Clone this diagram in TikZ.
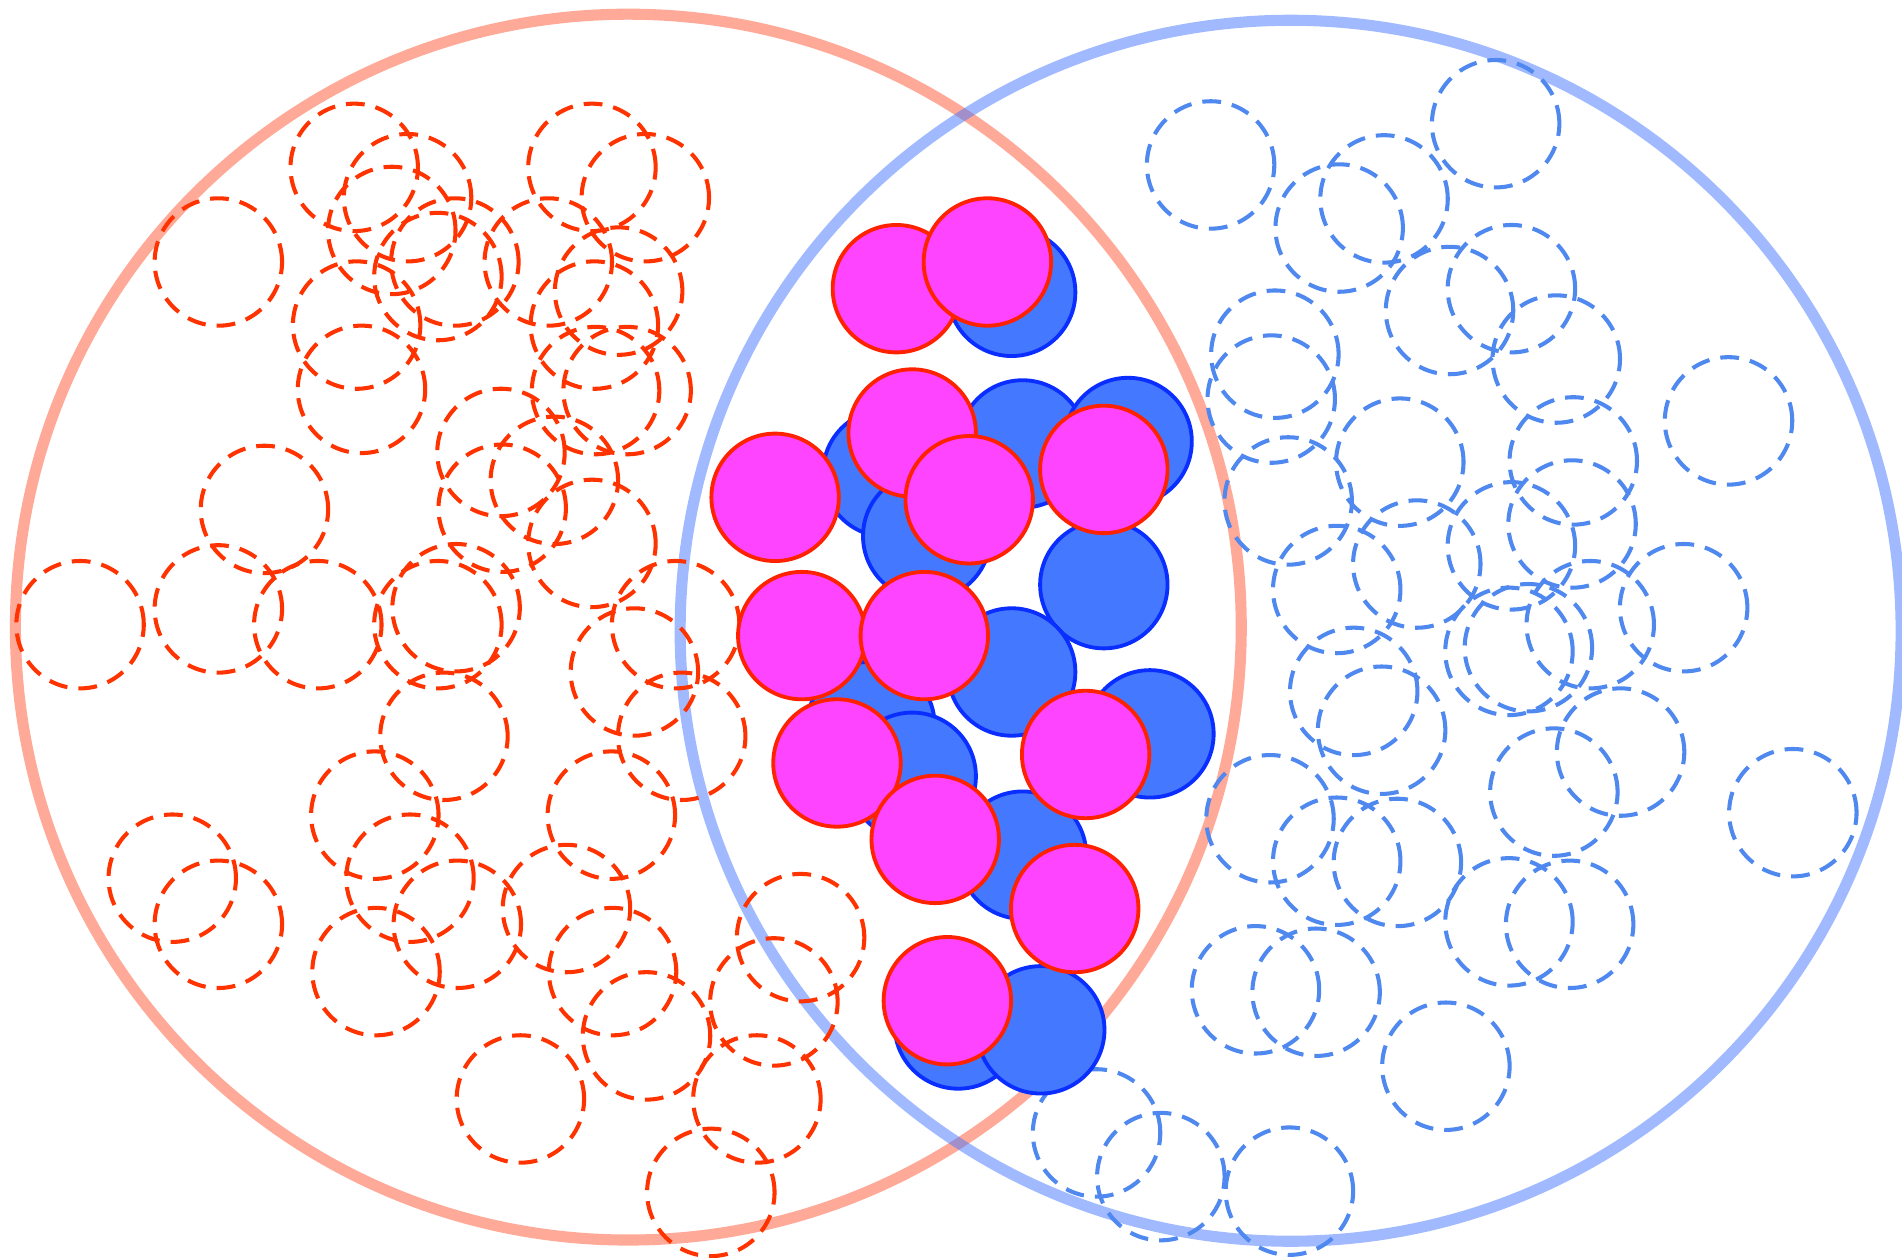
\documentclass[tikz,border=0pt]{standalone}
\definecolor{ringred}{HTML}{FF5533}
\definecolor{ringblue}{HTML}{4477FF}
\definecolor{dashred}{HTML}{FF3300}
\definecolor{dashblue}{HTML}{4F88EE}
\definecolor{solidblue}{HTML}{4479FF}
\definecolor{edgeblue}{HTML}{0A2EFF}
\definecolor{solidpink}{HTML}{FF44FF}
\definecolor{edgepink}{HTML}{FF2200}
\begin{document}
\begin{tikzpicture}[x=0.01cm,y=-0.01cm,
  ring/.style={line width=2.6pt,opacity=0.5},
  redpt/.style={draw=dashred,line width=0.95pt,dash pattern=on 4.4pt off 2.6pt},
  bluept/.style={draw=dashblue,line width=0.95pt,dash pattern=on 4.4pt off 2.6pt},
  bluedot/.style={fill=solidblue,draw=edgeblue,line width=0.9pt},
  pinkdot/.style={fill=solidpink,draw=edgepink,line width=0.9pt}]
\fill[white] (0,0) rectangle (1568,1037);
\useasboundingbox (0,0) rectangle (1568,1037);
% the two sets
\draw[ring,ringred] (518,517) circle[radius=5.05cm];
\draw[ring,ringblue] (1064,520) circle[radius=5.03cm];
% points of the left set
\def\redpts{
180/216, 292/138, 336/163, 323/190, 375/216, 361/228, 294/268, 298/321,
452/216, 488/138, 532/163, 510/240, 490/268, 491/322, 517/322,
413/373, 457/396, 414/419, 218/420, 488/448,
66/515, 180/502, 262/515, 361/515, 376/501, 557/515, 523/554,
366/607, 562/607, 309/672, 504/672,
142/724, 180/762, 338/724, 377/762, 467/749, 310/801, 505/801,
660/773, 638/826, 533/854, 429/906, 624/906, 586/983}
\foreach \x/\y in \redpts
  \draw[redpt] (\x,\y) circle[radius=0.525cm];
% points of the right set
\def\bluepts{
998/136, 1233/102, 1141/164, 1104/188, 1246/238, 1195/256, 1283/296,
1051/292, 1048/329, 1425/347, 1154/381, 1297/380, 1062/413,
1296/432, 1246/450, 1168/465, 1102/486, 1388/501, 1311/515,
1260/534, 1244/537, 1116/570, 1139/602, 1336/620, 1281/653,
1047/675, 1102/710, 1152/711, 1478/670, 1244/760, 1294/762,
1035/816, 1085/818, 1192/879, 904/934, 957/970, 1063/982}
\foreach \x/\y in \bluepts
  \draw[bluept] (\x,\y) circle[radius=0.525cm];
% shared points
\def\bluedots{
834/241, 731/390, 843/366, 930/364, 764/442, 910/482, 834/554,
948/605, 718/598, 752/640, 843/705, 790/845, 858/849}
\foreach \x/\y in \bluedots
  \draw[bluedot] (\x,\y) circle[radius=0.525cm];
\def\pinkdots{
739/238, 814/216, 752/357, 639/410, 799/412, 910/387,
661/524, 762/524, 690/629, 895/622, 771/692, 886/749, 781/825}
\foreach \x/\y in \pinkdots
  \draw[pinkdot] (\x,\y) circle[radius=0.525cm];
\end{tikzpicture}
\end{document}
